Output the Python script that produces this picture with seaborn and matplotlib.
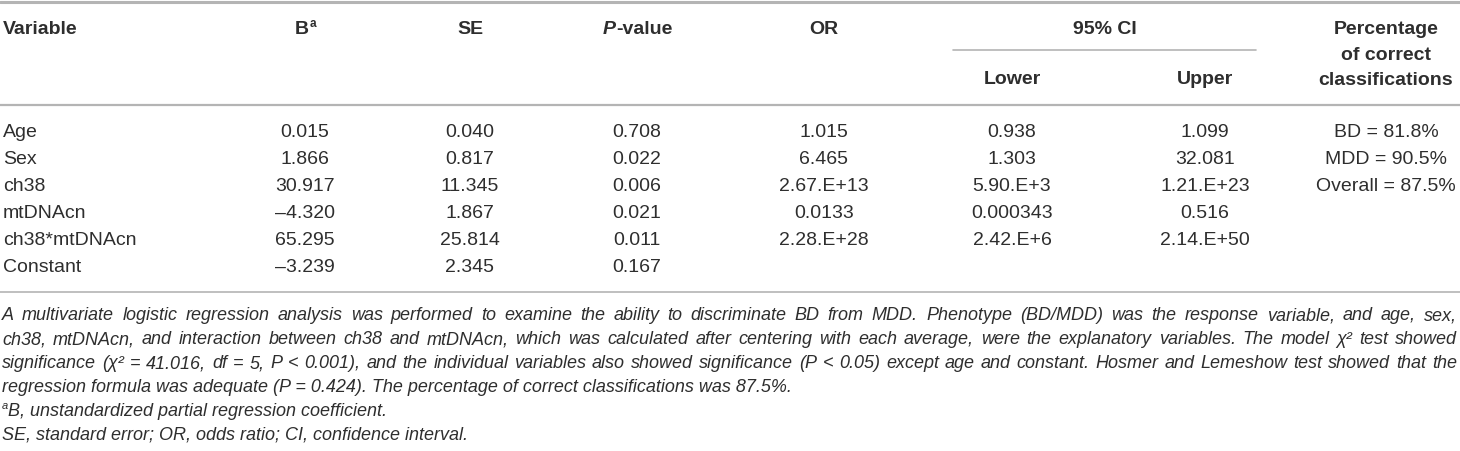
import matplotlib
matplotlib.use('Agg')
import matplotlib.pyplot as plt
import seaborn as sns

variables = ['Age', 'Sex', 'ch38', 'mtDNAcn', 'ch38*mtDNAcn', 'Constant']
b_coef = ['0.015', '1.866', '30.917', '\u20134.320', '65.295', '\u20133.239']
std_err = ['0.040', '0.817', '11.345', '1.867', '25.814', '2.345']
p_values = ['0.708', '0.022', '0.006', '0.021', '0.011', '0.167']
odds_ratio = ['1.015', '6.465', '2.67.E+13', '0.0133', '2.28.E+28', '']
ci_lower = ['0.938', '1.303', '5.90.E+3', '0.000343', '2.42.E+6', '']
ci_upper = ['1.099', '32.081', '1.21.E+23', '0.516', '2.14.E+50', '']
pct_correct = ['BD = 81.8%', 'MDD = 90.5%', 'Overall = 87.5%']

footnotes = [
    'A multivariate logistic regression analysis was performed to examine the ability to discriminate BD from MDD. Phenotype (BD/MDD) was the response variable, and age, sex,',
    'ch38, mtDNAcn, and interaction between ch38 and mtDNAcn, which was calculated after centering with each average, were the explanatory variables. The model \u03c7\u00b2 test showed',
    'significance (\u03c7\u00b2 = 41.016, df = 5, P < 0.001), and the individual variables also showed significance (P < 0.05) except age and constant. Hosmer and Lemeshow test showed that the',
    'regression formula was adequate (P = 0.424). The percentage of correct classifications was 87.5%.',
    'B, unstandardized partial regression coefficient.',
    'SE, standard error; OR, odds ratio; CI, confidence interval.',
]

sns.set_theme(style='white')
plt.rcParams['font.family'] = ['Liberation Sans', 'DejaVu Sans']

ink = '#2e2e2e'
rule = '#b4b4b4'
fs = 14
fs_note = 13
va = 'baseline'
lift = 7      # baseline sits this far below the visual centre of a row

fig = plt.figure(figsize=(14.6, 4.51), dpi=100)
ax = fig.add_axes([0, 0, 1, 1])
ax.set_xlim(0, 1460)
ax.set_ylim(451, 0)
ax.axis('off')
renderer = fig.canvas.get_renderer()

# rules
ax.axhline(1.5, color=rule, lw=2.2)
ax.axhline(105, color=rule, lw=1.6)
ax.axhline(292, color=rule, lw=1.2)
ax.plot([953, 1256], [50, 50], color=rule, lw=1.2)

# header
hy = 27 + lift
hdr = dict(fontsize=fs, fontweight='bold', color=ink, va=va)
ax.text(3, hy, 'Variable', ha='left', **hdr)
ax.text(309, hy, 'B', ha='right', **hdr)
ax.text(309.5, hy - 7, 'a', ha='left', fontsize=8.5, fontweight='bold', color=ink, va=va)
ax.text(470, hy, 'SE', ha='center', **hdr)
p_txt = ax.text(603, hy, 'P', ha='left', fontstyle='italic', **hdr)
p_w = p_txt.get_window_extent(renderer).width
ax.text(603 + p_w, hy, '-value', ha='left', **hdr)
ax.text(824, hy, 'OR', ha='center', **hdr)
ax.text(1105, hy, '95% CI', ha='center', **hdr)
ax.text(1012, 77 + lift, 'Lower', ha='center', **hdr)
ax.text(1205, 77 + lift, 'Upper', ha='center', **hdr)
for i, s in enumerate(['Percentage', 'of correct', 'classifications']):
    ax.text(1386, hy + i * 25.5, s, ha='center', **hdr)

# body
row0, step = 130 + lift, 27
cell = dict(fontsize=fs, color=ink, va=va)
for i, name in enumerate(variables):
    y = row0 + i * step
    ax.text(3, y, name, ha='left', **cell)
    ax.text(305, y, b_coef[i], ha='center', **cell)
    ax.text(470, y, std_err[i], ha='center', **cell)
    ax.text(637, y, p_values[i], ha='center', **cell)
    ax.text(824, y, odds_ratio[i], ha='center', **cell)
    ax.text(1012, y, ci_lower[i], ha='center', **cell)
    ax.text(1205, y, ci_upper[i], ha='center', **cell)
for i, s in enumerate(pct_correct):
    ax.text(1386, row0 + i * step, s, ha='center', **cell)

# footnotes, first three lines justified to the table width
note = dict(fontsize=fs_note, color=ink, va=va, ha='left', fontstyle='italic')
left, right = 2, 1457
for i, line in enumerate(footnotes):
    y = 314 + 6.5 + i * 23.8
    if i < 3:
        words = line.split(' ')
        arts = [ax.text(0, y, w, **note) for w in words]
        widths = [a.get_window_extent(renderer).width for a in arts]
        gap = (right - left - sum(widths)) / (len(words) - 1)
        x = left
        for a, w in zip(arts, widths):
            a.set_x(x)
            x += w + gap
    elif i == 4:
        ax.text(2, y - 7, 'a', fontsize=8, color=ink, va=va, ha='left', fontstyle='italic')
        ax.text(8, y, line, **note)
    else:
        ax.text(2, y, line, **note)

fig.savefig('out.png', dpi=100)
